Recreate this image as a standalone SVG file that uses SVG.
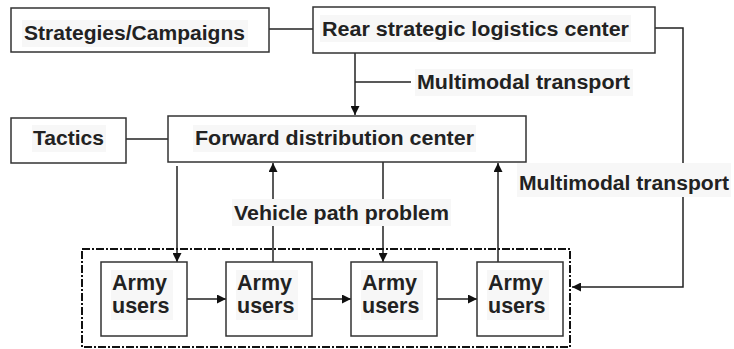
<svg xmlns="http://www.w3.org/2000/svg" width="734" height="349" viewBox="0 0 734 349">
<defs>
<marker id="ah" viewBox="0 0 10 10" refX="10" refY="5" markerWidth="9" markerHeight="9" markerUnits="userSpaceOnUse" orient="auto">
<path d="M0,0 L10,5 L0,10 Z" fill="#111"/>
</marker>
<style>
.box{fill:#fff;stroke:#333;stroke-width:1.5}
.ln{fill:none;stroke:#222;stroke-width:1.5}
.bg{fill:#f7f7f7}
text{font-family:"Liberation Sans",Arial,sans-serif;font-weight:bold;font-size:20px;fill:#222}
.au{font-size:21.5px}
</style>
</defs>
<rect width="734" height="349" fill="#fff"/>
<g id="connectors">
<path class="ln" d="M269,29 H313"/>
<path class="ln" d="M126,139 H168"/>
<path class="ln" d="M355,53 V115" marker-end="url(#ah)"/>
<path class="ln" d="M355,82 H411"/>
<path class="ln" d="M655,28 H683 V287 H572" marker-end="url(#ah)"/>
<path class="ln" d="M177,166 V262" marker-end="url(#ah)"/>
<path class="ln" d="M273,262 V163" marker-end="url(#ah)"/>
<path class="ln" d="M383,162 V262" marker-end="url(#ah)"/>
<path class="ln" d="M498,262 V163" marker-end="url(#ah)"/>
<path class="ln" d="M187,299 H226" marker-end="url(#ah)"/>
<path class="ln" d="M312,299 H351" marker-end="url(#ah)"/>
<path class="ln" d="M437,299 H477" marker-end="url(#ah)"/>
</g>
<g id="group-users">
<rect x="82" y="249" width="488" height="98" fill="none" stroke="#111" stroke-width="2" stroke-dasharray="8 2 2 2"/>
</g>
<g id="strategies">
<rect class="box" x="11" y="8" width="258" height="44"/>
<rect class="bg" x="22" y="20" width="226" height="27"/>
<text x="24" y="40" textLength="221" lengthAdjust="spacingAndGlyphs">Strategies/Campaigns</text>
</g>
<g id="rear">
<rect class="box" x="313" y="7" width="342" height="46"/>
<rect class="bg" x="320" y="15" width="311" height="27"/>
<text x="322" y="36" textLength="307" lengthAdjust="spacingAndGlyphs">Rear strategic logistics center</text>
</g>
<g id="label-mt1">
<rect class="bg" x="415" y="69" width="218" height="27"/>
<text x="417" y="89" textLength="213" lengthAdjust="spacingAndGlyphs">Multimodal transport</text>
</g>
<g id="tactics">
<rect class="box" x="11" y="118" width="115" height="45"/>
<rect class="bg" x="32" y="125" width="74" height="27"/>
<text x="33" y="145" textLength="71" lengthAdjust="spacingAndGlyphs">Tactics</text>
</g>
<g id="forward">
<rect class="box" x="168" y="116" width="358" height="46"/>
<rect class="bg" x="193" y="125" width="283" height="27"/>
<text x="195" y="145" textLength="279" lengthAdjust="spacingAndGlyphs">Forward distribution center</text>
</g>
<g id="label-vpp">
<rect class="bg" x="232" y="199" width="219" height="27"/>
<text x="234" y="220" textLength="215" lengthAdjust="spacingAndGlyphs">Vehicle path problem</text>
</g>
<g id="label-mt2">
<rect class="bg" x="517" y="163" width="214" height="34"/>
<text x="519" y="190" textLength="210" lengthAdjust="spacingAndGlyphs">Multimodal transport</text>
</g>
<g id="army1">
<rect class="box" x="101" y="262" width="86" height="74"/>
<rect class="bg" x="111" y="270" width="62" height="50"/>
<text class="au" x="112" y="290">Army</text>
<text class="au" x="112" y="313">users</text>
</g>
<g id="army2">
<rect class="box" x="226" y="262" width="86" height="74"/>
<rect class="bg" x="236" y="270" width="62" height="50"/>
<text class="au" x="237" y="290">Army</text>
<text class="au" x="237" y="313">users</text>
</g>
<g id="army3">
<rect class="box" x="351" y="262" width="86" height="74"/>
<rect class="bg" x="361" y="270" width="62" height="50"/>
<text class="au" x="362" y="290">Army</text>
<text class="au" x="362" y="313">users</text>
</g>
<g id="army4">
<rect class="box" x="477" y="262" width="86" height="74"/>
<rect class="bg" x="487" y="270" width="62" height="50"/>
<text class="au" x="488" y="290">Army</text>
<text class="au" x="488" y="313">users</text>
</g>
</svg>
